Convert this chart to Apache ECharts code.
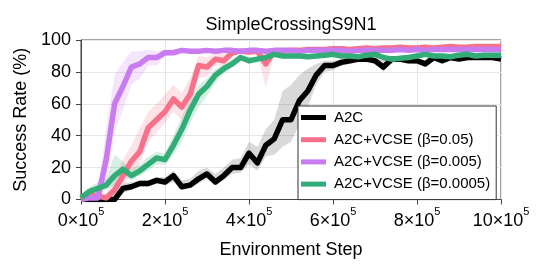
<!DOCTYPE html>
<html><head><meta charset="utf-8">
<script src="https://cdn.jsdelivr.net/npm/echarts@6/dist/echarts.min.js"></script>
<style>html,body{margin:0;padding:0;background:#fff}#c{width:548px;height:274px}</style>
</head><body><div id="c"></div>
<script>
// x positions in units of 10^4 environment steps
const stepsE4 = [0,2,4,6,8,10,12,14,16,18,20,22,24,26,28,30,32,34,36,38,40,42,44,46,48,50,52,54,56,58,60,62,64,66,68,70,72,74,76,78,80,82,84,86,88,90,92,94,96,98,100];
const xTickLabels = ['0','2','4','6','8','10'];
const yTicks = [0,20,40,60,80,100];

const a2c = [0,0,0,0,0, 7,8,10,10,12, 11,15,8,9,13, 16,11,15,20,20, 29,23,34,38,50, 50,62,68,78,84, 84,86,87,88,88, 87,83,88,88,87, 87,85,89,87,89, 88,89,89,89,89,88];
const a2cLo = [0,0,0,0,0, 4,6,8,8,10, 9,11,6,7,10, 13,9,12,16,17, 22,18,27,28,33, 36,47,58,72,80, 81,84,85,86,86, 85,80,86,86,85, 85,83,87,85,87, 87,87,88,88,88,87];
const a2cHi = [1,1,1,1,1, 10,11,12,12,14, 14,18,12,13,18, 20,16,20,25,26, 36,33,44,50,68, 72,78,82,85,87, 87,88,89,90,90, 89,87,90,90,89, 89,87,91,89,91, 90,91,91,91,91,90];

const vcse005 = [0,3,2,1,6, 15,24,30,45,50, 55,63,58,66,84, 83,88,87,92,93, 92.5,93,85,93,93, 93.5,93.5,94,94,94, 94.5,94.5,94,94.5,95, 94.5,95,95,95.5,95, 95,95.5,95,95.5,96, 95.5,95.5,96,96,96,96];
const vcse005Lo = [0,0,0,0,2, 8,16,22,36,42, 48,55,50,57,76, 77,84,84,90,91.5, 91,91.5,70,91.5,91.5, 92,92,92.5,92.5,92.5, 93,93,92.5,93,93.5, 93,93.5,93.5,94,93.5, 93.5,94,93.5,94,94.5, 94,94,94.5,94.5,94.5,94.5];
const vcse005Hi = [2,6,5,4,12, 25,34,45,55,60, 66,72,67,76,90, 89,92,91,94,94.5, 94,94.5,93,94.5,94.5, 95,95,95.5,95.5,95.5, 96,96,95.5,96,96.5, 96,96.5,96.5,97,96.5, 96.5,97,96.5,97,97.5, 97,97,97.5,97.5,97.5,97.5];

const vcse0005 = [0,1,1,25,60, 71,83,85,89,89, 92,92,93.5,93,93, 93.5,93,93.5,93.5,93, 93.5,93.5,93,93.5,93.5, 93.5,93,93.5,93.5,93.5, 93.5,93.5,93,93.5,93.5, 93.5,93.5,93.5,94,93.5, 94,93.5,94,94,94, 94,94,94,94,94,94];
const vcse0005Lo = [0,0,0,10,42, 56,72,76,84,84, 90,90.5,92.5,92,92, 92.7,92.2,92.7,92.7,92.2, 92.7,92.7,92.2,92.7,92.7, 92.7,92.2,92.7,92.7,92.7, 92.7,92.7,92.2,92.7,92.7, 92.7,92.7,92.7,93.2,92.7, 93.2,92.7,93.2,93.2,93.2, 93.2,93.2,93.2,93.2,93.2,93.2];
const vcse0005Hi = [1,3,5,45,78, 86,93,93,94,93, 94,94,94.5,94,94, 94.3,93.8,94.3,94.3,93.8, 94.3,94.3,93.8,94.3,94.3, 94.3,93.8,94.3,94.3,94.3, 94.3,94.3,93.8,94.3,94.3, 94.3,94.3,94.3,94.8,94.3, 94.8,94.3,94.8,94.8,94.8, 94.8,94.8,94.8,94.8,94.8,94.8];

const vcse00005 = [1,5,7,9,15, 19,15,18,22,26, 25,34,44,56,66, 71,78,82,85,89, 87,88,89,91,90, 90,90,89.5,90,90.5, 91,90,90,89.5,90.5, 91,89,88,88.5,89, 90,91,90,90,89.5, 90.5,91,90,90.5,90.5,90.5];
const vcse00005Lo = [0,2,3,6,9, 15,12,15,18,22, 22,28,36,48,58, 65,73,79,83,87, 85,86.5,87.5,89.5,88.5, 88.5,88.5,88,88.5,89, 89.5,88.5,88.5,88,89, 89.5,87.5,86.5,87,87.5, 88.5,89.5,88.5,88.5,88, 89,89.5,88.5,89,89,89];
const vcse00005Hi = [3,8,11,13,28, 24,19,22,27,30, 29,40,52,63,72, 76,82,85,88,90.5, 89,89.5,90.5,92.5,91.5, 91.5,91.5,91,91.5,92, 92.5,91.5,91.5,91,92, 92.5,90.5,89.5,90,90.5, 91.5,92.5,91.5,91.5,91, 92,92.5,91.5,92,92,92];

const names = ['A2C','A2C+VCSE (β=0.05)','A2C+VCSE (β=0.005)','A2C+VCSE (β=0.0005)'];
const colors = ['#000000','#f7718a','#c87cf0','#33ad78'];
const bandColors = ['rgba(0,0,0,0.15)','rgba(247,113,138,0.2)','rgba(200,124,240,0.2)','rgba(51,173,120,0.2)'];

const FONT = "'Liberation Sans', Arial, Helvetica, sans-serif";
const xs = stepsE4.map(s => s * 1e4);
const pairs = arr => arr.map((v, i) => [xs[i], v]);

function bandSeries(lo, hi, color) {
  return {
    type: 'custom', silent: true, z: 1, clip: true,
    data: [[0, 0]],
    encode: { x: 0, y: 1 },
    renderItem: (params, api) => {
      const pts = [];
      for (let i = 0; i < xs.length; i++) pts.push(api.coord([xs[i], hi[i]]));
      for (let i = xs.length - 1; i >= 0; i--) pts.push(api.coord([xs[i], lo[i]]));
      return { type: 'polygon', shape: { points: pts }, style: { fill: color } };
    }
  };
}
function lineSeries(name, data, color, z) {
  return {
    name, type: 'line', data: pairs(data), showSymbol: false, symbol: 'none',
    lineStyle: { color, width: 5.5, join: 'round' }, itemStyle: { color }, z
  };
}

const allVals = [a2c, vcse005, vcse0005, vcse00005];
const allLo = [a2cLo, vcse005Lo, vcse0005Lo, vcse00005Lo];
const allHi = [a2cHi, vcse005Hi, vcse0005Hi, vcse00005Hi];

const series = [];
for (let k = 0; k < 4; k++) series.push(bandSeries(allLo[k], allHi[k], bandColors[k]));
for (let k = 0; k < 4; k++) series.push(lineSeries(names[k], allVals[k], colors[k], 2 + k));

const chart = echarts.init(document.getElementById('c'), null, { renderer: 'canvas' });
chart.setOption({
  animation: false,
  backgroundColor: '#fff',
  textStyle: { fontFamily: FONT },
  title: {
    text: 'SimpleCrossingS9N1', left: 291, top: 16, padding: 0, textAlign: 'center',
    textStyle: { fontFamily: FONT, fontSize: 18, fontWeight: 'normal', color: '#000' }
  },
  grid: { left: 81, right: 47, top: 40, bottom: 74.5, show: true, borderColor: '#444', borderWidth: 1, backgroundColor: 'transparent' },
  legend: {
    orient: 'vertical', left: 298, top: 106, padding: [4, 6, 8, 3],
    data: names, icon: 'rect', itemWidth: 25, itemHeight: 5, itemGap: 7.2,
    borderColor: '#333', borderWidth: 1, backgroundColor: '#fff', borderRadius: 0,
    textStyle: { fontFamily: FONT, fontSize: 15, color: '#000', lineHeight: 15, padding: [0, 0, 0, 3] },
    selectedMode: false
  },
  xAxis: {
    type: 'value', min: 0, max: 1000000, interval: 200000,
    name: 'Environment Step', nameLocation: 'middle', nameGap: 42,
    nameTextStyle: { fontFamily: FONT, fontSize: 18, color: '#000' },
    axisLine: { show: true, lineStyle: { color: '#444', width: 1 } },
    axisTick: { show: true, length: 5, lineStyle: { color: '#444' } },
    splitLine: { show: true, lineStyle: { color: '#e6e6e6', width: 1 } },
    axisLabel: {
      margin: 7, color: '#000', fontFamily: FONT, fontSize: 18,
      formatter: v => '{m|' + xTickLabels[Math.round(v / 200000)] + '×10}{s|5}',
      rich: {
        m: { fontFamily: FONT, fontSize: 18, color: '#000', lineHeight: 30 },
        s: { fontFamily: FONT, fontSize: 11, color: '#000', verticalAlign: 'top', lineHeight: 10 }
      }
    }
  },
  yAxis: {
    type: 'value', min: 0, max: 100, interval: 20,
    name: 'Success Rate (%)', nameLocation: 'middle', nameGap: 41, nameRotate: 90,
    nameTextStyle: { fontFamily: FONT, fontSize: 18, color: '#000' },
    axisLine: { show: true, lineStyle: { color: '#444', width: 1 } },
    axisTick: { show: true, length: 5, lineStyle: { color: '#444' } },
    splitLine: { show: true, lineStyle: { color: '#e6e6e6', width: 1 } },
    axisLabel: { margin: 10, color: '#000', fontFamily: FONT, fontSize: 18,
      formatter: v => yTicks.includes(v) ? String(v) : '' }
  },
  series
});
</script>
</body></html>
